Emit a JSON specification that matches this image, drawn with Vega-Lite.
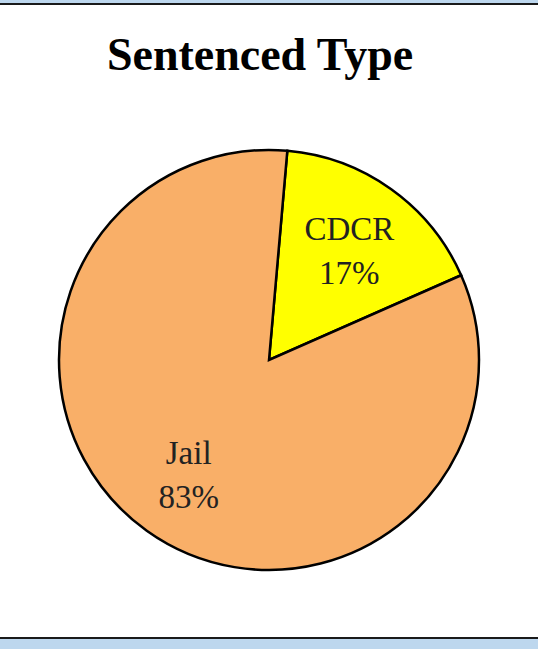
{
  "$schema": "https://vega.github.io/schema/vega-lite/v6.json",
  "width": 542,
  "height": 634,
  "autosize": {"type": "none"},
  "padding": {"left": -2, "top": 4, "right": 0, "bottom": 11},
  "background": "#BDD7EE",
  "view": {"fill": "white", "stroke": "#1a1a1a", "strokeWidth": 2},
  "title": {
    "text": "Sentenced Type",
    "font": "Liberation Serif",
    "fontSize": 46,
    "fontWeight": "bold",
    "color": "black",
    "offset": -76,
    "anchor": "middle",
    "dx": -9
  },
  "data": {
    "values": [
      {"type": "CDCR", "value": 17, "label": "CDCR\n17%"},
      {"type": "Jail", "value": 83, "label": "Jail\n83%"}
    ]
  },
  "encoding": {
    "theta": {
      "field": "value",
      "type": "quantitative",
      "stack": true,
      "scale": {"range": [0.0873, 6.3705]}
    }
  },
  "layer": [
    {
      "mark": {"type": "arc", "outerRadius": 210, "stroke": "black", "strokeWidth": 2.5, "yOffset": 39},
      "encoding": {
        "color": {
          "field": "type",
          "type": "nominal",
          "scale": {"domain": ["CDCR", "Jail"], "range": ["#FFFF00", "#F9AF68"]},
          "legend": null
        }
      }
    },
    {
      "mark": {
        "type": "text",
        "radius": 138,
        "font": "Liberation Serif",
        "fontSize": 33,
        "lineBreak": "\n",
        "lineHeight": 44,
        "yOffset": 39,
        "dy": -18,
        "color": "#222222"
      },
      "encoding": {"text": {"field": "label", "type": "nominal"}}
    }
  ]
}
